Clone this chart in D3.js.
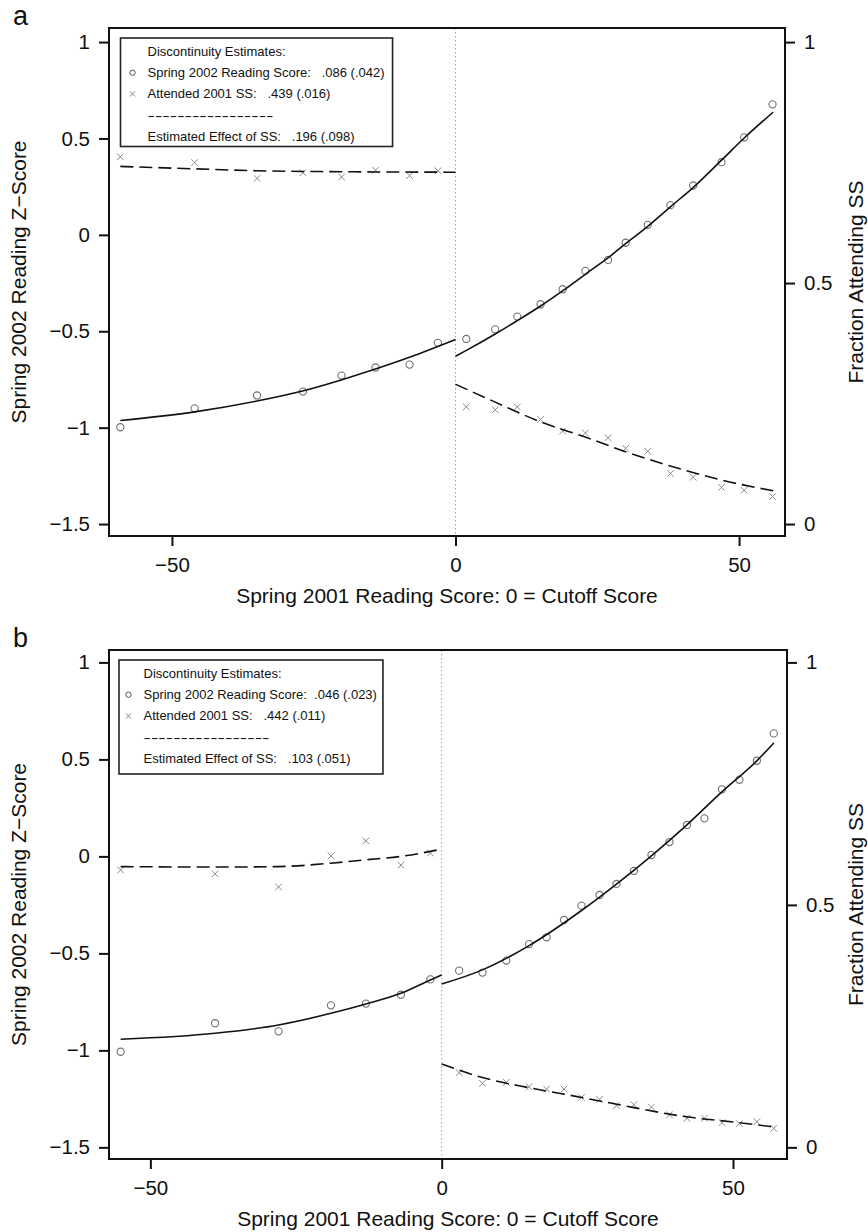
<!DOCTYPE html>
<html>
<head>
<meta charset="utf-8">
<script src="https://cdnjs.cloudflare.com/ajax/libs/d3/7.8.5/d3.min.js"></script>
<style>
  body { margin: 0; background: #fff; }
  svg text { font-family: "Liberation Sans", Arial, Helvetica, sans-serif; fill: #111; }
  .leg text { white-space: pre; }
</style>
</head>
<body>
<div id="chart"></div>
<script>
// ---- panel a: bin means (x = 2001 score relative to cutoff)
var binXA = [-59.1, -46.0, -35.0, -26.9, -20.1, -14.1, -8.1, -3.1,
             1.9, 7.0, 10.9, 15.0, 18.9, 22.9, 26.9, 30.0, 33.9, 37.9, 41.9, 46.9, 50.9, 55.9];
var readingA = [-0.998, -0.90, -0.833, -0.813, -0.73, -0.688, -0.673, -0.56,
                -0.54, -0.49, -0.424, -0.36, -0.282, -0.187, -0.13, -0.041, 0.052, 0.154, 0.256, 0.377, 0.506, 0.677];
var attendA = [0.762, 0.75, 0.717, 0.729, 0.72, 0.734, 0.723, 0.733,
               0.243, 0.237, 0.243, 0.217, 0.193, 0.189, 0.179, 0.157, 0.151, 0.105, 0.097, 0.076, 0.070, 0.057];

// fitted curves
var fitReadLeftA = [[-59.1, -0.963], [-46, -0.918], [-35, -0.862], [-27, -0.81], [-20, -0.751], [-14, -0.695], [-8, -0.634], [0, -0.543]];
var fitReadRightA = [[0, -0.63], [2, -0.598], [7, -0.514], [11, -0.443], [15, -0.369], [19, -0.288], [23, -0.202], [27, -0.117],
                     [30, -0.046], [34, 0.047], [38, 0.148], [42, 0.248], [47, 0.39], [51, 0.505], [56, 0.636]];
var fitAttendLeftA = [[-59.1, 0.742], [-46, 0.737], [-35, 0.733], [-20, 0.731], [0, 0.730]];
var fitAttendRightA = [[0, 0.29], [7, 0.253], [15, 0.212], [23, 0.18], [30, 0.15], [38, 0.12], [47, 0.091], [56, 0.069]];

var legendA = ["Discontinuity Estimates:",
               "Spring 2002 Reading Score:   .086 (.042)",
               "Attended 2001 SS:   .439 (.016)",
               "-----------------",
               "Estimated Effect of SS:   .196 (.098)"];

// ---- panel b
var binXB = [-55.1, -38.9, -28.0, -19.0, -13.0, -7.0, -1.95,
             3.0, 7.0, 11.1, 15.0, 18.0, 21.0, 24.0, 27.1, 30.0, 33.0, 36.0, 39.1, 42.1, 45.1, 48.1, 51.1, 54.1, 57.0];
var readingB = [-1.007, -0.86, -0.902, -0.768, -0.759, -0.713, -0.634,
                -0.589, -0.599, -0.537, -0.452, -0.417, -0.328, -0.254, -0.199, -0.142, -0.075, 0.007, 0.074, 0.162, 0.196, 0.346, 0.395, 0.493, 0.634];
var attendB = [0.572, 0.564, 0.537, 0.601, 0.632, 0.582, 0.607,
               0.154, 0.132, 0.134, 0.125, 0.120, 0.120, 0.103, 0.099, 0.086, 0.088, 0.083, 0.067, 0.060, 0.060, 0.051, 0.049, 0.053, 0.039];

var fitReadLeftB = [[-55.1, -0.943], [-38.9, -0.912], [-28, -0.869], [-19, -0.809], [-13, -0.761], [-7, -0.706], [-1.95, -0.637], [0, -0.611]];
var fitReadRightB = [[0, -0.658], [7, -0.585], [15, -0.46], [24, -0.279], [30, -0.143], [36, 0.003], [42, 0.160], [48, 0.33], [54, 0.49], [57, 0.585]];
var fitAttendLeftB = [[-55.1, 0.579], [-39, 0.578], [-28, 0.579], [-19, 0.586], [-13, 0.593], [-7, 0.600], [0, 0.615]];
var fitAttendRightB = [[0, 0.172], [7, 0.144], [15, 0.123], [24, 0.103], [33, 0.082], [42, 0.063], [51, 0.051], [57, 0.042]];

var legendB = ["Discontinuity Estimates:",
               "Spring 2002 Reading Score:  .046 (.023)",
               "Attended 2001 SS:   .442 (.011)",
               "-----------------",
               "Estimated Effect of SS:   .103 (.051)"];

// ---- shared axis stuff
var xTicks = [-50, 0, 50];
var yTicksLeft = [-1.5, -1, -0.5, 0, 0.5, 1];
var yTicksRight = [0, 0.5, 1];
var xLabel = "Spring 2001 Reading Score: 0 = Cutoff Score";
var yLabelLeft = "Spring 2002 Reading Z\u2212Score";
var yLabelRight = "Fraction Attending SS";

var width = 868, height = 1232;

var svg = d3.select("#chart").append("svg")
    .attr("width", width)
    .attr("height", height);

function fmt(d) {
  return d < 0 ? "\u2212" + Math.abs(d) : String(d);
}

function drawPanel(p) {
  var g = svg.append("g");

  var x = d3.scaleLinear().domain(p.xlim).range([p.left, p.right]);
  var y = d3.scaleLinear().domain(p.ylim).range([p.bottom, p.top]);
  // right axis: 0..1 lines up with -1.5..1 on the left
  var yR = d3.scaleLinear().domain([0, 1]).range([y(-1.5), y(1)]);

  // cutoff line
  g.append("line")
    .attr("x1", x(0)).attr("x2", x(0))
    .attr("y1", p.top).attr("y2", p.bottom)
    .attr("stroke", "#a0a0a0")
    .attr("stroke-width", 1)
    .attr("stroke-dasharray", "1.5,2.5");

  var pts = p.binX.map(function(v, i) {
    return { x: v, read: p.reading[i], att: p.attend[i] };
  });

  g.selectAll("path.cross").data(pts).join("path")
    .attr("class", "cross")
    .attr("d", "M-3.3,-3.3L3.3,3.3M-3.3,3.3L3.3,-3.3")
    .attr("transform", function(d) { return "translate(" + x(d.x) + "," + yR(d.att) + ")"; })
    .attr("stroke", "#8a8a8a")
    .attr("stroke-width", 1)
    .attr("fill", "none");

  g.selectAll("circle.pt").data(pts).join("circle")
    .attr("class", "pt")
    .attr("cx", function(d) { return x(d.x); })
    .attr("cy", function(d) { return y(d.read); })
    .attr("r", 3.6)
    .attr("fill", "none")
    .attr("stroke", "#707070")
    .attr("stroke-width", 1.1);

  var lineL = d3.line()
    .x(function(d) { return x(d[0]); })
    .y(function(d) { return y(d[1]); })
    .curve(d3.curveMonotoneX);
  var lineR = d3.line()
    .x(function(d) { return x(d[0]); })
    .y(function(d) { return yR(d[1]); })
    .curve(d3.curveMonotoneX);

  [p.fitReadLeft, p.fitReadRight].forEach(function(f) {
    g.append("path").attr("d", lineL(f))
      .attr("fill", "none").attr("stroke", "#111").attr("stroke-width", 1.6);
  });
  [p.fitAttendLeft, p.fitAttendRight].forEach(function(f) {
    g.append("path").attr("d", lineR(f))
      .attr("fill", "none").attr("stroke", "#111").attr("stroke-width", 1.6)
      .attr("stroke-dasharray", "13,6");
  });

  // axes
  var ax = g.append("g").attr("transform", "translate(0," + p.bottom + ")")
    .call(d3.axisBottom(x).tickValues(xTicks).tickFormat(fmt).tickSize(10).tickPadding(11.5));
  var ayL = g.append("g").attr("transform", "translate(" + p.left + ",0)")
    .call(d3.axisLeft(y).tickValues(yTicksLeft).tickFormat(fmt).tickSize(10).tickPadding(9));
  var ayR = g.append("g").attr("transform", "translate(" + p.right + ",0)")
    .call(d3.axisRight(yR).tickValues(yTicksRight).tickFormat(fmt).tickSize(10).tickPadding(9));

  [ax, ayL, ayR].forEach(function(a) {
    a.select(".domain").remove();
    a.selectAll(".tick line").attr("stroke", "#111").attr("stroke-width", 2);
    a.selectAll(".tick text").attr("font-size", 20.5).attr("fill", "#111")
      .attr("font-family", "'Liberation Sans', Arial, Helvetica, sans-serif");
  });

  // box
  g.append("rect")
    .attr("x", p.left).attr("y", p.top)
    .attr("width", p.right - p.left).attr("height", p.bottom - p.top)
    .attr("fill", "none").attr("stroke", "#111").attr("stroke-width", 2);

  // axis titles
  var cy = (p.top + p.bottom) / 2;
  g.append("text")
    .attr("x", (p.left + p.right) / 2).attr("y", p.bottom + 67)
    .attr("text-anchor", "middle").attr("font-size", 21)
    .text(xLabel);
  g.append("text")
    .attr("transform", "translate(26," + cy + ") rotate(-90)")
    .attr("text-anchor", "middle").attr("font-size", 21)
    .text(yLabelLeft);
  g.append("text")
    .attr("transform", "translate(863," + cy + ") rotate(-90)")
    .attr("text-anchor", "middle").attr("font-size", 21)
    .text(yLabelRight);

  // panel letter
  g.append("text")
    .attr("x", 13).attr("y", p.top - 3)
    .attr("font-size", 27)
    .text(p.tag);

  // legend
  var leg = g.append("g").attr("class", "leg")
    .attr("transform", "translate(" + (p.left + p.legDx) + "," + (p.top + 10) + ")");
  var box = leg.append("rect")
    .attr("fill", "#fff").attr("stroke", "#222").attr("stroke-width", 1.6);
  var rowY = function(i) { return 13.5 + i * 21.2; };
  var texts = leg.selectAll("text").data(p.legend).join("text")
    .attr("x", p.legText)
    .attr("y", function(d, i) { return rowY(i); })
    .attr("dy", "0.35em")
    .attr("font-size", 13)
    .attr("fill", function(d, i) { return i === 3 ? "#555" : "#1a1a1a"; })
    .text(function(d) { return d; });
  texts.filter(function(d, i) { return i === 3; })
    .attr("textLength", 126)
    .attr("lengthAdjust", "spacingAndGlyphs");
  var maxW = d3.max(texts.nodes(), function(n) { return n.getComputedTextLength(); });
  box.attr("x", 0).attr("y", 0)
    .attr("width", p.legText + maxW + p.legPad)
    .attr("height", p.legH);
  leg.append("circle")
    .attr("cx", p.legText - 15).attr("cy", rowY(1)).attr("r", 2.7)
    .attr("fill", "none").attr("stroke", "#555").attr("stroke-width", 1);
  leg.append("path")
    .attr("d", "M-2.6,-2.6L2.6,2.6M-2.6,2.6L2.6,-2.6")
    .attr("transform", "translate(" + (p.legText - 15) + "," + rowY(2) + ")")
    .attr("stroke", "#888").attr("stroke-width", 1);
}

drawPanel({
  tag: "a",
  left: 109, right: 785, top: 28, bottom: 536,
  xlim: [-61.1, 58.1], ylim: [-1.562, 1.073],
  binX: binXA, reading: readingA, attend: attendA,
  fitReadLeft: fitReadLeftA, fitReadRight: fitReadRightA,
  fitAttendLeft: fitAttendLeftA, fitAttendRight: fitAttendRightA,
  legend: legendA, legDx: 11.5, legText: 27, legPad: 8, legH: 108.5
});

drawPanel({
  tag: "b",
  left: 109, right: 787, top: 650, bottom: 1159,
  xlim: [-57.1, 59.27], ylim: [-1.56, 1.064],
  binX: binXB, reading: readingB, attend: attendB,
  fitReadLeft: fitReadLeftB, fitReadRight: fitReadRightB,
  fitAttendLeft: fitAttendLeftB, fitAttendRight: fitAttendRightB,
  legend: legendB, legDx: 10, legText: 24.5, legPad: 6, legH: 114
});
</script>
</body>
</html>
